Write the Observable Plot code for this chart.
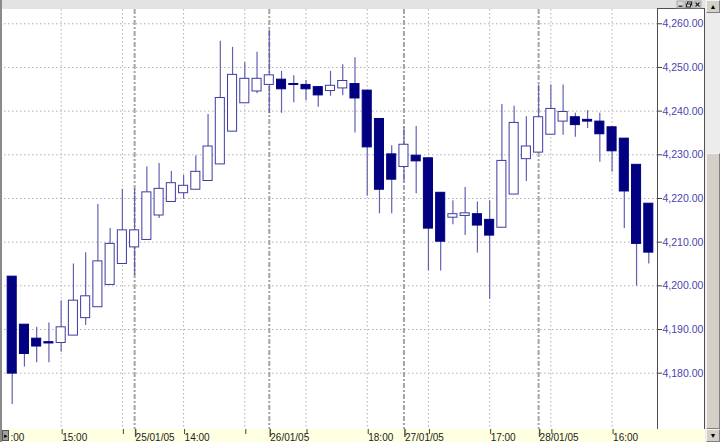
<!DOCTYPE html>
<html><head><meta charset="utf-8">
<script src="https://cdn.jsdelivr.net/npm/d3@7"></script>
<script src="https://cdn.jsdelivr.net/npm/@observablehq/plot@0.6"></script>
<style>
body{margin:0;background:#fff;font-family:"Liberation Sans",Arial,sans-serif;}
#wrap{position:relative;width:720px;height:442px;overflow:hidden;background:#fff;}
.abs{position:absolute;box-sizing:border-box;}
</style></head><body><div id="wrap">
<div class="abs" style="left:0;top:0;width:705px;height:9px;background:#e3e3e3"></div>
<div class="abs" style="left:0;top:429px;width:705px;height:13px;background:#ffffe1"></div>
<div class="abs" style="left:657px;top:8px;width:48px;height:421px;border:1px solid #505050;border-bottom:none"></div>
<div id="chart" class="abs" style="left:0;top:0"></div>
<div class="abs" style="left:0;top:0;width:2px;height:442px;background:#8a8a8a"></div>
<div class="abs" style="left:2px;top:430px;width:7px;height:11px;background:#a0a0a0;border:1px solid #555;font-size:7px;line-height:9px;color:#000;text-align:center;overflow:hidden">&#9656;</div>
<svg class="abs" style="left:676px;top:0" width="28" height="9">
  <rect x="1" y="1" width="7" height="7" fill="#d8d8d8" stroke="#999" stroke-width="0.8"/>
  <line x1="2.5" y1="6.2" x2="6.5" y2="6.2" stroke="#222" stroke-width="1.3"/>
  <rect x="9.5" y="1" width="7" height="7" fill="#d8d8d8" stroke="#999" stroke-width="0.8"/>
  <rect x="11.5" y="2" width="4" height="3" fill="none" stroke="#222" stroke-width="1"/>
  <rect x="10.5" y="4" width="4" height="3" fill="#d8d8d8" stroke="#222" stroke-width="1"/>
  <rect x="18" y="1" width="7" height="7" fill="#d8d8d8" stroke="#999" stroke-width="0.8"/>
  <line x1="19.5" y1="2.5" x2="23.5" y2="6.5" stroke="#222" stroke-width="1.2"/>
  <line x1="23.5" y1="2.5" x2="19.5" y2="6.5" stroke="#222" stroke-width="1.2"/>
</svg>
<div class="abs" style="left:705px;top:0;width:15px;height:442px;background:#ececec"></div>
<div class="abs" style="left:706px;top:153px;width:14px;height:276px;background:#d4d0c8;border-left:1px solid #f4f4f4;border-top:1px solid #f4f4f4;border-right:1px solid #808080;border-bottom:1px solid #808080"></div>
<div class="abs" style="left:706px;top:0;width:14px;height:13px;background:#d4d0c8;border:1px solid #808080;border-top-color:#f4f4f4;border-left-color:#f4f4f4;font-size:7px;line-height:11px;text-align:center;color:#000">&#9650;</div>
<div class="abs" style="left:706px;top:429px;width:14px;height:13px;background:#d4d0c8;border:1px solid #808080;border-top-color:#f4f4f4;border-left-color:#f4f4f4;font-size:7px;line-height:11px;text-align:center;color:#000">&#9660;</div>
</div>
<script>
// Hourly OHLC candles (index 0 = first bar, 11:00 on 24/01/05)
const opens  = [4202.1,4191.1,4187.9,4187.1,4186.9,4188.6,4192.6,4195.1,4200.2,4205.0,
                4208.8,4210.5,4216.1,4219.2,4221.2,4222.0,4224.0,4227.8,4235.3,4241.8,
                4244.5,4246.0,4247.2,4246.2,4246.0,4245.5,4244.6,4245.2,4246.2,4244.7,
                4238.2,4230.1,4227.2,4229.8,4229.2,4221.3,4215.6,4216.0,4216.4,4215.1,
                4213.3,4220.9,4229.0,4230.5,4234.6,4237.6,4238.6,4238.0,4237.6,4236.3,
                4233.7,4227.7,4218.8];
const highs  = [4202.1,4191.1,4190.5,4191.5,4196.5,4205.0,4207.6,4218.6,4213.1,4222.1,
                4222.1,4227.2,4228.0,4226.2,4225.3,4229.7,4239.2,4256.0,4254.6,4251.1,
                4253.5,4258.6,4249.1,4248.1,4247.0,4245.5,4249.1,4250.6,4252.2,4244.7,
                4238.2,4232.1,4236.3,4236.5,4229.2,4221.3,4219.5,4222.5,4219.2,4219.5,
                4241.5,4241.1,4238.7,4246.0,4246.0,4246.0,4239.5,4240.1,4239.5,4236.3,
                4233.7,4227.7,4218.8];
const lows   = [4172.8,4181.4,4182.4,4182.4,4184.8,4188.6,4190.9,4195.1,4200.2,4205.0,
                4202.4,4210.5,4215.4,4219.2,4219.8,4222.0,4224.0,4227.8,4235.3,4241.8,
                4244.0,4239.4,4239.5,4241.9,4242.4,4240.9,4243.4,4243.5,4235.0,4220.5,
                4216.5,4216.5,4223.7,4221.1,4203.4,4203.4,4214.0,4211.5,4207.5,4196.9,
                4213.3,4220.9,4223.9,4230.5,4234.6,4234.5,4234.0,4236.0,4228.3,4226.0,
                4213.1,4199.9,4205.0];
const closes = [4179.9,4184.4,4186.1,4186.8,4190.5,4196.6,4197.6,4205.6,4209.6,4212.7,
                4212.7,4221.4,4222.2,4223.5,4222.9,4226.1,4231.9,4243.0,4248.3,4247.4,
                4247.4,4248.2,4245.0,4246.0,4245.0,4243.6,4245.8,4246.9,4242.9,4231.7,
                4222.0,4224.3,4232.3,4228.5,4213.1,4210.1,4216.4,4216.6,4213.8,4211.5,
                4228.6,4237.3,4231.9,4238.6,4240.5,4239.8,4236.8,4237.6,4234.7,4230.8,
                4221.6,4209.6,4207.6];

const yTicks = [4180,4190,4200,4210,4220,4230,4240,4250,4260];
const gridIdx = [4,9,14,19,24,29,34,39,44,49];
const timeLabels = ["15:00","","14:00","","","18:00","","17:00","","16:00"];
const dayIdx = [10,21,32,43];
const dayLabels = ["25/01/05","26/01/05","27/01/05","28/01/05"];
const firstLabel = [":00"];

const candles = opens.map((o,i)=>({i, open:o, high:highs[i], low:lows[i], close:closes[i], up: closes[i] > o}));
const timeMap = new Map(gridIdx.map((d,k)=>[d,timeLabels[k]]));
const dayMap = new Map(dayIdx.map((d,k)=>[d,dayLabels[k]]));

const chart = Plot.plot({
  width:720, height:442,
  marginLeft:4, marginRight:63, marginTop:9, marginBottom:13,
  x:{domain:[-0.629,52.711]},
  y:{domain:[4167.1,4263.27]},
  style:{background:"transparent", overflow:"visible", fontFamily:"'Liberation Sans', Arial, sans-serif"},
  marks:[
    Plot.ruleY(yTicks,{stroke:"#b0b0b0", strokeDasharray:"1.5,2.5"}),
    Plot.ruleX(gridIdx,{stroke:"#b0b0b0", strokeDasharray:"1.5,2.5"}),
    Plot.ruleX(dayIdx,{stroke:"#a4a4a4", strokeWidth:2, strokeDasharray:"5,2,2,2"}),
    Plot.ruleX(candles,{x:"i", y1:"low", y2:"high", stroke:"#6262b2", strokeWidth:1.2}),
    Plot.rect(candles,{x1:d=>d.i-0.37, x2:d=>d.i+0.37, y1:"open", y2:"close",
      fill:d=>d.up?"#ffffff":"#000080", stroke:d=>d.up?"#3c3ca2":"#000080", strokeWidth:1}),
    Plot.axisY(yTicks,{anchor:"right", tickFormat:d3.format(",.2f"), tickSize:4, tickPadding:1,
      fontSize:10.5, fill:"#4646ae", stroke:"#404040", label:null}),
    Plot.axisX(gridIdx,{anchor:"bottom", tickSize:5, tickPadding:-1, tickFormat:d=>timeMap.get(d),
      textAnchor:"start", dx:1, fontSize:10, fill:"#222", stroke:"#404040", label:null}),
    Plot.axisX(dayIdx,{anchor:"bottom", tickSize:8, tickPadding:-4, tickFormat:d=>dayMap.get(d),
      textAnchor:"start", dx:1, fontSize:10, fill:"#222", stroke:"#505050", strokeWidth:1.5, label:null}),
    Plot.text(firstLabel,{frameAnchor:"bottom-left", dx:6, dy:11, fontSize:10, fill:"#222", textAnchor:"start"})
  ]
});
document.getElementById("chart").appendChild(chart);
</script>
</body></html>
